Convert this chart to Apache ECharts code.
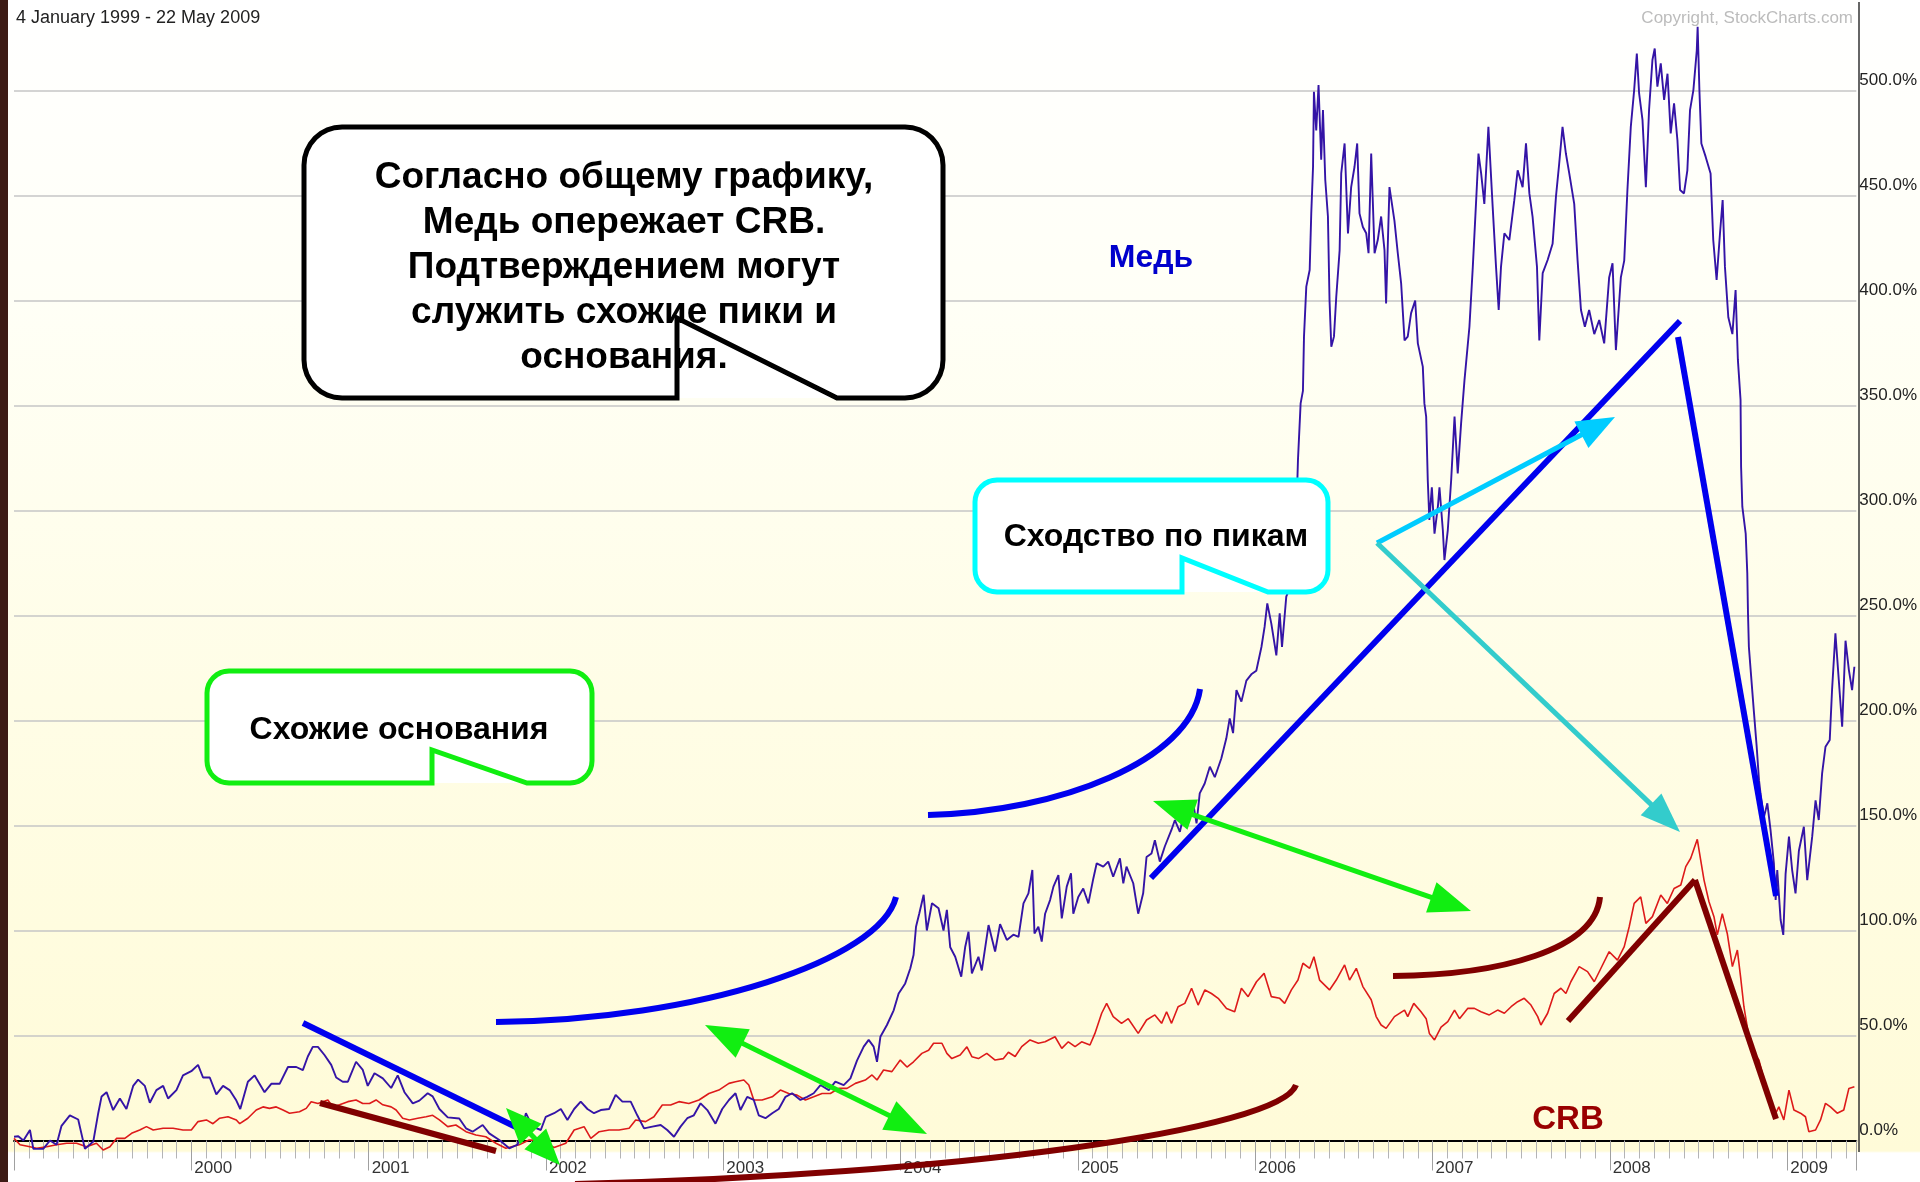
<!DOCTYPE html>
<html>
<head>
<meta charset="utf-8">
<script src="https://cdn.jsdelivr.net/npm/echarts@6.0.0/dist/echarts.min.js"></script>
<style>
html, body { margin: 0; padding: 0; }
#main {
  width: 1920px;
  height: 1182px;
  background: linear-gradient(to bottom, #ffffff 0px, #fffff6 300px, #fffde6 700px, #fffbd8 1151px, #ffffff 1153px, #ffffff 1182px);
}
</style>
</head>
<body>
<div id="main"></div>
<script>
// decimal years + % change since 4 Jan 1999
const copperYears = [
  1999.000, 1999.024, 1999.053, 1999.090, 1999.109, 1999.165, 1999.203, 1999.240, 1999.268, 1999.315,
  1999.362, 1999.400, 1999.447, 1999.475, 1999.494, 1999.522, 1999.559, 1999.597, 1999.634, 1999.672,
  1999.700, 1999.738, 1999.766, 1999.803, 1999.841, 1999.869, 1999.916, 1999.953, 2000.000, 2000.038,
  2000.066, 2000.104, 2000.141, 2000.179, 2000.216, 2000.254, 2000.276, 2000.319, 2000.357, 2000.413,
  2000.451, 2000.498, 2000.545, 2000.592, 2000.629, 2000.657, 2000.685, 2000.714, 2000.751, 2000.789,
  2000.817, 2000.854, 2000.883, 2000.929, 2000.967, 2000.995, 2001.033, 2001.080, 2001.127, 2001.164,
  2001.202, 2001.249, 2001.286, 2001.333, 2001.361, 2001.399, 2001.446, 2001.511, 2001.549, 2001.586,
  2001.643, 2001.680, 2001.737, 2001.793, 2001.840, 2001.887, 2001.924, 2001.971, 2001.999, 2002.046,
  2002.084, 2002.121, 2002.159, 2002.196, 2002.234, 2002.271, 2002.309, 2002.356, 2002.393, 2002.431,
  2002.478, 2002.515, 2002.553, 2002.600, 2002.647, 2002.684, 2002.722, 2002.759, 2002.797, 2002.834,
  2002.872, 2002.910, 2002.956, 2002.994, 2003.032, 2003.069, 2003.097, 2003.135, 2003.172, 2003.200,
  2003.238, 2003.276, 2003.313, 2003.351, 2003.388, 2003.435, 2003.473, 2003.510, 2003.548, 2003.595,
  2003.632, 2003.679, 2003.717, 2003.754, 2003.792, 2003.820, 2003.848, 2003.867, 2003.886, 2003.923,
  2003.961, 2003.989, 2004.026, 2004.055, 2004.073, 2004.087, 2004.105, 2004.130, 2004.148, 2004.177,
  2004.214, 2004.242, 2004.261, 2004.280, 2004.308, 2004.342, 2004.364, 2004.383, 2004.402, 2004.439,
  2004.458, 2004.496, 2004.533, 2004.561, 2004.599, 2004.636, 2004.665, 2004.693, 2004.721, 2004.743,
  2004.755, 2004.777, 2004.796, 2004.815, 2004.843, 2004.862, 2004.890, 2004.909, 2004.937, 2004.961,
  2004.974, 2005.002, 2005.030, 2005.059, 2005.087, 2005.106, 2005.143, 2005.171, 2005.199, 2005.237,
  2005.256, 2005.274, 2005.312, 2005.340, 2005.368, 2005.387, 2005.415, 2005.434, 2005.462, 2005.490,
  2005.528, 2005.547, 2005.575, 2005.603, 2005.631, 2005.650, 2005.669, 2005.687, 2005.715, 2005.744,
  2005.772, 2005.809, 2005.837, 2005.856, 2005.875, 2005.894, 2005.922, 2005.950, 2005.978, 2006.006,
  2006.035, 2006.053, 2006.068, 2006.091, 2006.119, 2006.138, 2006.151, 2006.175, 2006.204, 2006.232,
  2006.241, 2006.256, 2006.269, 2006.275, 2006.288, 2006.307, 2006.316, 2006.326, 2006.331, 2006.344,
  2006.357, 2006.372, 2006.382, 2006.395, 2006.410, 2006.419, 2006.429, 2006.444, 2006.457, 2006.476,
  2006.485, 2006.504, 2006.523, 2006.541, 2006.560, 2006.575, 2006.588, 2006.607, 2006.626, 2006.639,
  2006.654, 2006.673, 2006.691, 2006.710, 2006.729, 2006.738, 2006.757, 2006.785, 2006.804, 2006.823,
  2006.842, 2006.860, 2006.879, 2006.902, 2006.917, 2006.945, 2006.954, 2006.964, 2006.973, 2006.982,
  2006.996, 2007.011, 2007.030, 2007.039, 2007.058, 2007.067, 2007.086, 2007.105, 2007.124, 2007.142,
  2007.161, 2007.180, 2007.208, 2007.227, 2007.246, 2007.259, 2007.274, 2007.292, 2007.315, 2007.339,
  2007.358, 2007.373, 2007.386, 2007.405, 2007.433, 2007.461, 2007.480, 2007.508, 2007.527, 2007.546,
  2007.564, 2007.589, 2007.602, 2007.621, 2007.649, 2007.677, 2007.696, 2007.714, 2007.733, 2007.752,
  2007.771, 2007.799, 2007.818, 2007.837, 2007.859, 2007.883, 2007.912, 2007.940, 2007.968, 2007.996,
  2008.015, 2008.034, 2008.062, 2008.081, 2008.099, 2008.118, 2008.137, 2008.152, 2008.165, 2008.184,
  2008.203, 2008.221, 2008.240, 2008.253, 2008.268, 2008.287, 2008.306, 2008.325, 2008.343, 2008.362,
  2008.381, 2008.396, 2008.418, 2008.437, 2008.452, 2008.471, 2008.490, 2008.495, 2008.505, 2008.516,
  2008.540, 2008.568, 2008.583, 2008.602, 2008.621, 2008.636, 2008.649, 2008.668, 2008.691, 2008.709,
  2008.722, 2008.737, 2008.740, 2008.747, 2008.766, 2008.775, 2008.779, 2008.784, 2008.794, 2008.813,
  2008.828, 2008.841, 2008.850, 2008.869, 2008.888, 2008.906, 2008.925, 2008.935, 2008.944, 2008.963,
  2008.978, 2008.991, 2009.010, 2009.028, 2009.047, 2009.066, 2009.094, 2009.113, 2009.141, 2009.160,
  2009.178, 2009.197, 2009.216, 2009.240, 2009.253, 2009.272, 2009.291, 2009.310, 2009.329, 2009.348,
  2009.366, 2009.379
];
const copperPct = [
  1.8, 2, 0, 5, -4, -4, 0, -2, 7, 12,
  10, -4, -0.5, 13, 21, 23, 14.5, 20, 15, 26,
  29, 26, 18, 24, 26, 20, 24, 31, 33, 36,
  30, 30, 22, 26, 24, 19, 15, 28, 31, 23,
  27, 27, 35, 35, 33.5, 40, 44.6, 44.6, 40.7, 36,
  30, 28, 28, 37.5, 33.6, 26, 32, 29.6, 25, 31,
  23, 17.7, 19, 22.5, 21, 15, 11, 10.5, 5.8, 4.2,
  7.4, 3.4, 0.2, -3.7, -2, 13, 6.6, 5, 11.3, 13,
  15, 9.8, 15, 18.5, 15, 13, 14.5, 15, 21.7, 18.5,
  18.5, 12, 5.8, 6.6, 7.4, 5, 1.8, 6.6, 10.6, 12,
  17.7, 14.5, 8, 15, 19.3, 22.5, 14.5, 20.8, 19.3, 12,
  10.6, 13, 15, 20.8, 22.5, 19.3, 20.8, 22.5, 26.4, 24,
  28, 26.4, 29.6, 38, 44.7, 47.9, 44.7, 37.5, 49.4, 55,
  62, 70, 74.8, 82, 88.3, 101.8, 108, 117, 100, 113,
  110.6, 100, 109.8, 92, 87.5, 78, 92, 99.4, 79.6, 87.5,
  81, 102.6, 90, 103, 95.5, 98, 97, 112.9, 117.7, 128.8,
  98.6, 101.8, 94.7, 108, 114.5, 120.9, 126.4, 105.8, 120.9, 127.2,
  108, 116, 120, 112.9, 124.8, 132, 130.4, 132.8, 125.6, 134.4,
  122.5, 130.4, 122.5, 108, 117.7, 135, 136.7, 143, 132.8, 140,
  148, 152.6, 147, 157.4, 153.4, 160.6, 151, 165.3, 170, 178,
  173, 182, 191.5, 201, 194, 214.5, 209, 219, 222, 223.7,
  235, 244.7, 255.8, 246, 231, 251, 235, 259, 265, 298.6,
  324, 351, 357, 382.8, 406.6, 414.5, 441.5, 463.7, 499.4, 481,
  502.6, 467, 490.7, 457.4, 440, 400, 378, 382.8, 401.8, 424,
  460.5, 474.8, 431.9, 454, 463.7, 474.8, 441.5, 435, 432, 422.5,
  470, 422.5, 428.8, 440, 424, 398.6, 454, 438, 422.5, 408,
  381, 382.8, 394, 400, 379.6, 368.5, 351, 344.7, 314.5, 295.5,
  311, 289, 301.8, 311, 290.7, 276.4, 290.7, 314.5, 344.7, 317.7,
  341.5, 362, 387.5, 416, 447.8, 470, 460.5, 446, 482.7, 444.7,
  416, 395.5, 416, 432, 428.8, 447.8, 462, 454, 474.8, 451,
  440, 416, 381, 413, 419.3, 427, 449.5, 465, 482.7, 470,
  460.5, 446, 419, 395.5, 387.5, 395.5, 384, 390.7, 379.6, 411,
  417.7, 376.4, 411, 419, 452.6, 482.7, 500.2, 517.6, 498.6, 486,
  454, 490.7, 514.5, 520, 501.8, 512.9, 495.5, 508, 479.6, 493.9,
  476.4, 452.6, 451, 462, 490.7, 500.2, 519, 530.4, 500, 474.8,
  468.5, 460.5, 428.8, 409.8, 431.9, 447.8, 416, 392, 384, 405,
  371.7, 352.6, 321, 301.8, 289, 270, 251, 235, 224, 203.4,
  187.5, 171.6, 165, 154, 160.6, 147.9, 132, 114.5, 128.8, 105,
  97.9, 127, 144.7, 128.8, 117.7, 138, 149.4, 124, 144.7, 162,
  152.6, 174.8, 187.5, 190.7, 214.5, 241.5, 219.3, 197, 238, 224,
  214.5, 225.6
];

const crbYears = [
  1999.000, 1999.034, 1999.090, 1999.128, 1999.184, 1999.240, 1999.297, 1999.353, 1999.409, 1999.465,
  1999.503, 1999.541, 1999.578, 1999.625, 1999.663, 1999.709, 1999.747, 1999.785, 1999.841, 1999.897,
  1999.953, 2000.000, 2000.038, 2000.085, 2000.122, 2000.160, 2000.207, 2000.254, 2000.273, 2000.319,
  2000.366, 2000.404, 2000.441, 2000.479, 2000.517, 2000.554, 2000.610, 2000.648, 2000.676, 2000.714,
  2000.770, 2000.798, 2000.836, 2000.883, 2000.929, 2000.967, 2001.005, 2001.042, 2001.080, 2001.127,
  2001.155, 2001.192, 2001.230, 2001.277, 2001.324, 2001.361, 2001.399, 2001.446, 2001.492, 2001.549,
  2001.605, 2001.661, 2001.718, 2001.774, 2001.849, 2001.905, 2001.962, 2002.018, 2002.046, 2002.112,
  2002.159, 2002.215, 2002.253, 2002.300, 2002.356, 2002.412, 2002.469, 2002.506, 2002.562, 2002.609,
  2002.656, 2002.703, 2002.750, 2002.806, 2002.863, 2002.919, 2002.975, 2003.032, 2003.069, 2003.116,
  2003.144, 2003.172, 2003.219, 2003.276, 2003.322, 2003.369, 2003.416, 2003.463, 2003.510, 2003.557,
  2003.604, 2003.651, 2003.698, 2003.745, 2003.801, 2003.839, 2003.867, 2003.904, 2003.951, 2003.998,
  2004.036, 2004.073, 2004.120, 2004.158, 2004.186, 2004.233, 2004.261, 2004.289, 2004.336, 2004.374,
  2004.402, 2004.439, 2004.486, 2004.533, 2004.580, 2004.608, 2004.646, 2004.683, 2004.730, 2004.777,
  2004.815, 2004.871, 2004.909, 2004.946, 2004.984, 2005.021, 2005.068, 2005.096, 2005.134, 2005.162,
  2005.199, 2005.246, 2005.284, 2005.340, 2005.387, 2005.434, 2005.472, 2005.500, 2005.528, 2005.565,
  2005.603, 2005.641, 2005.678, 2005.716, 2005.753, 2005.791, 2005.838, 2005.884, 2005.922, 2005.960,
  2006.007, 2006.050, 2006.091, 2006.138, 2006.166, 2006.204, 2006.241, 2006.269, 2006.307, 2006.331,
  2006.363, 2006.419, 2006.457, 2006.504, 2006.532, 2006.570, 2006.607, 2006.654, 2006.682, 2006.710,
  2006.738, 2006.785, 2006.842, 2006.860, 2006.894, 2006.935, 2006.964, 2006.982, 2007.011, 2007.048,
  2007.086, 2007.124, 2007.152, 2007.198, 2007.236, 2007.273, 2007.320, 2007.367, 2007.405, 2007.443,
  2007.480, 2007.517, 2007.555, 2007.593, 2007.611, 2007.649, 2007.686, 2007.724, 2007.752, 2007.780,
  2007.827, 2007.874, 2007.912, 2007.949, 2007.996, 2008.043, 2008.081, 2008.109, 2008.137, 2008.174,
  2008.203, 2008.240, 2008.287, 2008.324, 2008.362, 2008.400, 2008.428, 2008.456, 2008.475, 2008.493,
  2008.512, 2008.531, 2008.559, 2008.587, 2008.606, 2008.634, 2008.662, 2008.691, 2008.719, 2008.737,
  2008.756, 2008.784, 2008.813, 2008.841, 2008.869, 2008.897, 2008.925, 2008.953, 2008.981, 2009.010,
  2009.038, 2009.075, 2009.103, 2009.122, 2009.160, 2009.188, 2009.216, 2009.244, 2009.282, 2009.319,
  2009.348, 2009.379
];
const crbPct = [
  1, -2, -3, -3.7, -3, -2, -1.3, -1.3, -3, -1.3,
  -4.5, -3, 1, 1, 3.4, 5, 6.6, 5, 5.8, 5.8,
  5, 5, 9, 9.8, 8, 10.6, 11.3, 9.8, 8, 10.6,
  14.5, 16, 15.3, 16, 14.5, 13, 13.7, 15.3, 18.5, 17.6,
  19.3, 16, 17, 18.5, 19.3, 17.6, 17.6, 19.3, 17, 16,
  14.5, 10.6, 9.8, 10.6, 11.3, 12, 9.8, 6.6, 7.4, 4.2,
  2.6, 1.8, -1.3, -3.7, -2, 0.2, 0.2, -2, -3.3, -1.3,
  5, 6.6, 1, 4.2, 5, 5, 5.8, 9.8, 9, 11.3,
  16.9, 16.9, 18.5, 17.6, 19.3, 22.4, 24, 27.2, 28, 28.8,
  26.4, 19.3, 19.3, 20.8, 24, 22.4, 21.6, 19.3, 20.8, 22.4,
  22.4, 24.8, 24.8, 27.2, 28.8, 31.2, 28.8, 33.6, 32.8, 38.3,
  35, 37.5, 41.5, 43, 46.3, 46.3, 41.5, 39, 40.7, 44.6,
  39.9, 39, 41.5, 38.3, 39, 42, 40, 44.7, 47.9, 46.3,
  47, 49.4, 43.9, 47, 44.7, 47, 45.5, 51, 60.6, 65.3,
  59, 55.8, 58, 51, 57.4, 59.8, 55.8, 61.3, 55.8, 63.7,
  65.3, 72.5, 64.5, 71.7, 70, 67.7, 62.9, 61.3, 72.5, 68.5,
  75.6, 79.6, 68.5, 67.7, 65.3, 71.7, 76.4, 84.4, 82, 87.5,
  76.4, 71.7, 76.4, 83.6, 76.4, 82, 73.3, 67, 59, 55,
  53.4, 59, 62.1, 59, 65.3, 61.3, 58, 51, 47.9, 54,
  56.6, 62.1, 58, 62.9, 62.9, 61.3, 59.8, 62.1, 60.6, 63.7,
  66.1, 67.7, 64.5, 59, 55, 60.6, 70, 72.5, 70, 75.6,
  82.8, 80.4, 75.6, 81.9, 89.9, 85.9, 92.3, 101.8, 112.9, 116,
  103.4, 106.6, 116.9, 112.9, 120, 121.7, 130.4, 134.4, 139, 143.4,
  133.6, 124, 113.7, 106.6, 97.9, 108, 98.6, 82.8, 90.7, 78,
  63.7, 49.4, 41.5, 38.3, 28.8, 22.5, 11.3, 16, 9.8, 24,
  14.5, 13, 11.3, 4.2, 5, 9.8, 17.7, 16, 13, 14.5,
  24.8, 25.6
];

const calloutMain = [
  "Согласно общему графику,",
  "Медь опережает CRB.",
  "Подтверждением могут",
  "служить схожие пики и",
  "основания."
];

const FONT = '"Liberation Sans", Arial, sans-serif';

function pairs(xs, ys) {
  return xs.map((x, i) => [x, ys[i]]);
}

// quarter circle points for a rounded corner
function corner(cx, cy, r, a0, a1) {
  const pts = [];
  for (let k = 0; k <= 8; k++) {
    const a = (a0 + (a1 - a0) * k / 8) * Math.PI / 180;
    pts.push([cx + r * Math.cos(a), cy + r * Math.sin(a)]);
  }
  return pts;
}

// rounded box outline, the tail folded up into the bottom edge
function bubbleOutline(x0, y0, x1, y1, r, tA, tTop, tB) {
  let pts = [];
  pts = pts.concat(corner(x1 - r, y0 + r, r, -90, 0));
  pts = pts.concat(corner(x1 - r, y1 - r, r, 0, 90));
  pts.push([tB, y1], [tA, tTop], [tA, y1]);
  pts = pts.concat(corner(x0 + r, y1 - r, r, 90, 180));
  pts = pts.concat(corner(x0 + r, y0 + r, r, 180, 270));
  return pts;
}

function bubble(x0, y0, x1, y1, r, tA, tTop, tB, color) {
  return [
    { type: "rect", z: 10, silent: true,
      shape: { x: x0, y: y0, width: x1 - x0, height: y1 - y0, r: r },
      style: { fill: "#ffffff" } },
    { type: "polygon", z: 12, silent: true,
      shape: { points: bubbleOutline(x0, y0, x1, y1, r, tA, tTop, tB) },
      style: { fill: null, stroke: color, lineWidth: 5, lineJoin: "miter" } }
  ];
}

function head(tx, ty, fx, fy, len, wid, color) {
  const dx = tx - fx, dy = ty - fy, d = Math.hypot(dx, dy);
  const ux = dx / d, uy = dy / d;
  const bx = tx - ux * len, by = ty - uy * len;
  return { type: "polygon", z: 14, silent: true,
    shape: { points: [[tx, ty], [bx - uy * wid / 2, by + ux * wid / 2], [bx + uy * wid / 2, by - ux * wid / 2]] },
    style: { fill: color } };
}

function arrow(x1, y1, x2, y2, color, both, len, wid) {
  const d = Math.hypot(x2 - x1, y2 - y1);
  const ux = (x2 - x1) / d, uy = (y2 - y1) / d;
  const sx = both ? x1 + ux * len * 0.8 : x1, sy = both ? y1 + uy * len * 0.8 : y1;
  const out = [
    { type: "line", z: 13, silent: true,
      shape: { x1: sx, y1: sy, x2: x2 - ux * len * 0.8, y2: y2 - uy * len * 0.8 },
      style: { stroke: color, lineWidth: 5 } },
    head(x2, y2, x1, y1, len, wid, color)
  ];
  if (both) out.push(head(x1, y1, x2, y2, len, wid, color));
  return out;
}

function seg(x1, y1, x2, y2, color) {
  return { type: "line", z: 13, silent: true,
    shape: { x1: x1, y1: y1, x2: x2, y2: y2 },
    style: { stroke: color, lineWidth: 6 } };
}

function arc(x1, y1, c1x, c1y, c2x, c2y, x2, y2, color) {
  return { type: "bezierCurve", z: 13, silent: true,
    shape: { x1: x1, y1: y1, cpx1: c1x, cpy1: c1y, cpx2: c2x, cpy2: c2y, x2: x2, y2: y2 },
    style: { stroke: color, lineWidth: 6, fill: null } };
}

function label(text, x, y, size, color) {
  return { type: "text", z: 11, silent: true,
    style: { text: text, x: x, y: y, fill: color, font: "bold " + size + "px " + FONT,
      textAlign: "center", textVerticalAlign: "middle" } };
}

const BLUE = "#0000ee";
const MAROON = "#800000";
const GREEN = "#11ee11";

let graphics = [
  { type: "rect", z: 20, silent: true, shape: { x: 0, y: 0, width: 8, height: 1182 }, style: { fill: "#3d1b15" } },
  { type: "line", z: 5, silent: true, shape: { x1: 1859, y1: 2, x2: 1859, y2: 1152 }, style: { stroke: "#333", lineWidth: 1.5 } },
  { type: "text", z: 5, silent: true,
    style: { text: "4 January 1999 - 22 May 2009", x: 16, y: 18, fill: "#222", font: "18px " + FONT, textVerticalAlign: "middle" } },
  { type: "text", z: 5, silent: true,
    style: { text: "Copyright, StockCharts.com", x: 1853, y: 18, fill: "#bcbcbc", font: "17px " + FONT, textAlign: "right", textVerticalAlign: "middle" } }
];

// callouts
graphics = graphics.concat(bubble(304, 127, 943, 398, 38, 677, 318, 837, "#000000"));
calloutMain.forEach((t, i) => {
  graphics.push(label(t, 624, 177.5 + i * 45, 37, "#000000"));
});
graphics = graphics.concat(bubble(975, 480, 1328, 592, 22, 1182, 558, 1268, "#00ffff"));
graphics.push(label("Сходство по пикам", 1156, 537, 32, "#000000"));
graphics = graphics.concat(bubble(207, 671, 592, 783, 22, 432, 750, 527, GREEN));
graphics.push(label("Схожие основания", 399, 730, 32, "#000000"));

graphics.push(label("Медь", 1151, 258, 32, "#0000cc"));
graphics.push(label("CRB", 1568, 1120, 33, "#990000"));

// trend lines and arcs
graphics.push(seg(303, 1023, 520, 1129, BLUE));
graphics.push(seg(1151, 878, 1680, 321, BLUE));
graphics.push(seg(1678, 337, 1776, 896, BLUE));
graphics.push(arc(496, 1022, 700, 1020, 880, 960, 896, 897, BLUE));
graphics.push(arc(928, 815, 1060, 812, 1190, 760, 1200, 689, BLUE));

graphics.push(seg(320, 1103, 496, 1151, MAROON));
graphics.push(seg(1568, 1021, 1695, 880, MAROON));
graphics.push(seg(1695, 880, 1776, 1119, MAROON));
graphics.push(arc(575, 1184, 955, 1175, 1280, 1130, 1296, 1085, MAROON));
graphics.push(arc(1393, 976, 1500, 975, 1595, 950, 1600, 897, MAROON));

// arrows
graphics = graphics.concat(arrow(506, 1108, 560, 1165, GREEN, true, 36, 30));
graphics = graphics.concat(arrow(705, 1025, 927, 1134, GREEN, true, 42, 32));
graphics = graphics.concat(arrow(1153, 801, 1471, 911, GREEN, true, 42, 32));
graphics = graphics.concat(arrow(1377, 543, 1615, 417, "#00ccff", false, 38, 30));
graphics = graphics.concat(arrow(1377, 543, 1680, 832, "#33cccc", false, 40, 30));

// 0% line darker, top edge (max) line hidden
const splitColors = ["#8c8c80"];
for (let i = 0; i < 10; i++) splitColors.push("#c6c6c6");
splitColors.push("rgba(0,0,0,0)");

const myChart = echarts.init(document.getElementById("main"), null, { renderer: "canvas" });
const option = {
  animation: false,
  backgroundColor: "transparent",
  grid: { left: 14, right: 61, top: 0, bottom: 41.5 },
  xAxis: {
    type: "value",
    min: 1999,
    max: 2009.39,
    interval: 1,
    offset: 11.5,
    axisLine: { show: true, lineStyle: { color: "#000", width: 2 } },
    axisTick: { show: true, length: 30, lineStyle: { color: "#a0a0a0", width: 1 } },
    minorTick: { show: true, splitNumber: 12, length: 18, lineStyle: { color: "#b4b4b4", width: 1 } },
    splitLine: { show: false },
    axisLabel: {
      showMinLabel: false,
      showMaxLabel: false,
      align: "left",
      margin: 8,
      padding: [0, 0, 0, 3],
      fontSize: 17,
      fontFamily: FONT,
      color: "#333",
      formatter: (v) => String(Math.round(v))
    }
  },
  yAxis: {
    type: "value",
    position: "right",
    min: 0,
    max: 543.1,
    interval: 50,
    axisLine: { show: false },
    axisTick: { show: false },
    splitLine: { show: true, lineStyle: { color: splitColors, width: 1.5 } },
    axisLabel: {
      showMaxLabel: false,
      margin: 3,
      verticalAlign: "bottom",
      padding: [0, 0, 2, 0],
      fontSize: 17,
      fontFamily: FONT,
      color: "#222",
      formatter: (v) => v.toFixed(1) + "%"
    }
  },
  series: [
    {
      name: "CRB",
      type: "line",
      data: pairs(crbYears, crbPct),
      showSymbol: false,
      clip: false,
      z: 3,
      lineStyle: { color: "#dd1a1a", width: 1.6 }
    },
    {
      name: "Copper",
      type: "line",
      data: pairs(copperYears, copperPct),
      showSymbol: false,
      clip: false,
      z: 4,
      lineStyle: { color: "#3414a6", width: 1.9 }
    }
  ],
  graphic: graphics
};
myChart.setOption(option);
</script>
</body>
</html>
